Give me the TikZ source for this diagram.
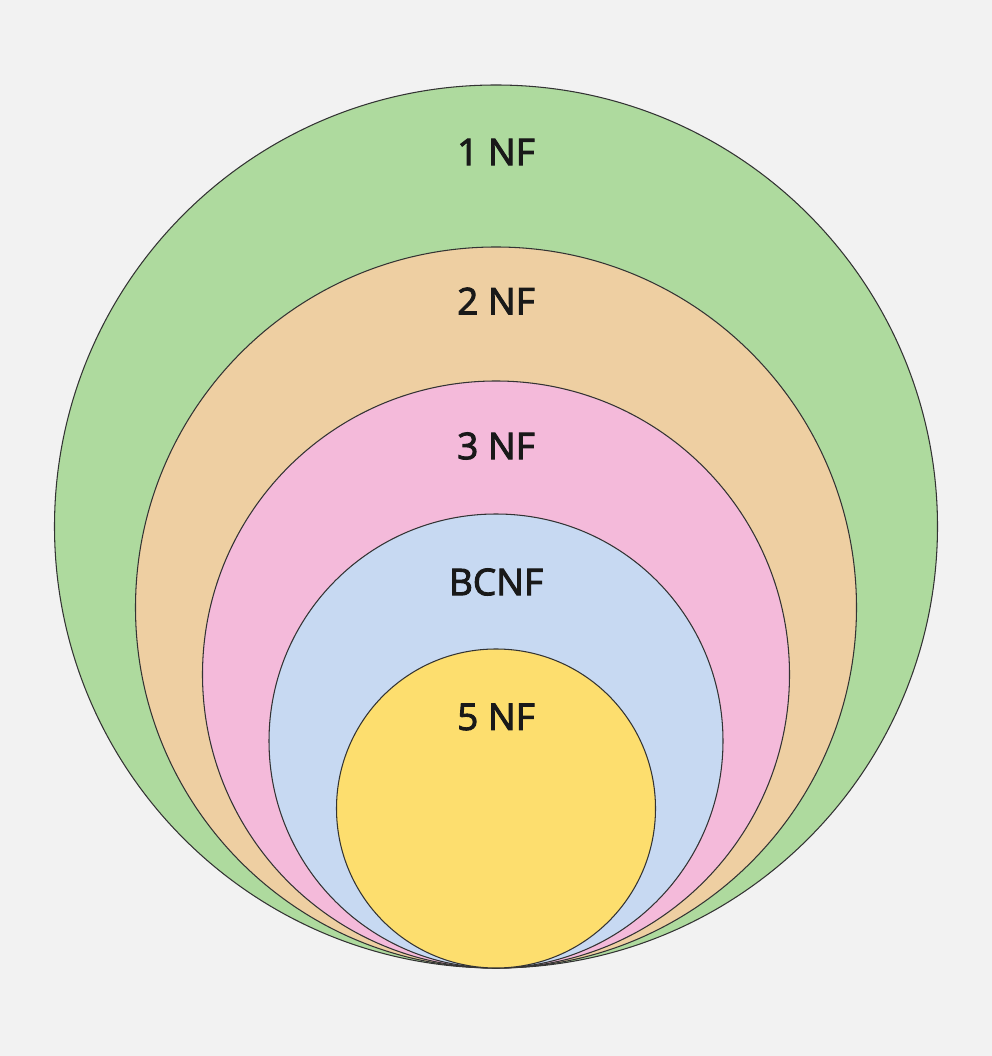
\documentclass[tikz,border=0pt]{standalone}
\usepackage{fontspec}
\setmainfont{Open Sans}
\newfontfamily\labelfont[FakeBold=2.6]{Open Sans}
\usepackage{xcolor}
\usepackage{tikz}
\definecolor{bgGray}{HTML}{F2F2F2}
\definecolor{nfGreen}{HTML}{AEDA9E}
\definecolor{nfOrange}{HTML}{EECFA2}
\definecolor{nfPink}{HTML}{F4BADA}
\definecolor{nfBlue}{HTML}{C7D9F2}
\definecolor{nfYellow}{HTML}{FDDE6E}
\tikzset{
  ring/.style={draw=black!80, line width=0.6pt},
  nflabel/.style={font=\labelfont\fontsize{21}{25}\selectfont, text=black!90, inner sep=0pt}
}

\begin{document}
\begin{tikzpicture}

        \fill[bgGray] (0,0) rectangle (19.84,21.12);
        \useasboundingbox (0,0) rectangle (19.84,21.12);

        \draw[ring, fill=nfGreen] (9.92,10.59) circle (8.83);
        \draw[ring, fill=nfOrange] (9.92,8.97) circle (7.21);
        \draw[ring, fill=nfPink] (9.92,7.63) circle (5.87);
        \draw[ring, fill=nfBlue] (9.92,6.30) circle (4.54);
        \draw[ring, fill=nfYellow] (9.92,4.95) circle (3.19);

        \node[nflabel] (nf1) at (9.92,18.08) {1 NF};
        \node[nflabel] (nf2) at (9.92,15.10) {2 NF};
        \node[nflabel] (nf3) at (9.92,12.20) {3 NF};
        \node[nflabel] (bcnf) at (9.92,9.48) {BCNF};
        \node[nflabel] (nf5) at (9.92,6.78) {5 NF};

\end{tikzpicture}
\end{document}
